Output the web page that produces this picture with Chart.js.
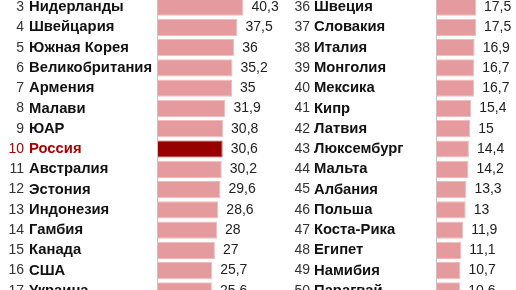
<!DOCTYPE html>
<html>
<head>
<meta charset="utf-8">
<script src="https://cdn.jsdelivr.net/npm/chart.js@4/dist/chart.umd.min.js"></script>
<style>
  html, body { margin: 0; padding: 0; background: #fff; }
  body { width: 516px; height: 290px; overflow: hidden; position: relative; }
  canvas { position: absolute; top: -3px; }
  #leftChart { left: 0; }
  #rightChart { left: 256px; }
</style>
</head>
<body>
<canvas id="leftChart" width="290" height="304"></canvas>
<canvas id="rightChart" width="260" height="304"></canvas>
<script>
// left column: places 3-17
const leftRanks = ['3', '4', '5', '6', '7', '8', '9', '10', '11', '12', '13', '14', '15', '16', '17'];
const leftNames = ['Нидерланды', 'Швейцария', 'Южная Корея', 'Великобритания', 'Армения', 'Малави', 'ЮАР',
  'Россия', 'Австралия', 'Эстония', 'Индонезия', 'Гамбия', 'Канада', 'США', 'Украина'];
const leftValues = [40.3, 37.5, 36, 35.2, 35, 31.9, 30.8, 30.6, 30.2, 29.6, 28.6, 28, 27, 25.7, 25.6];

// right column: places 36-50
const rightRanks = ['36', '37', '38', '39', '40', '41', '42', '43', '44', '45', '46', '47', '48', '49', '50'];
const rightNames = ['Швеция', 'Словакия', 'Италия', 'Монголия', 'Мексика', 'Кипр', 'Латвия', 'Люксембург',
  'Мальта', 'Албания', 'Польша', 'Коста-Рика', 'Египет', 'Намибия', 'Парагвай'];
const rightValues = [17.5, 17.5, 16.9, 16.7, 16.7, 15.4, 15, 14.4, 14.2, 13.3, 13, 11.9, 11.1, 10.7, 10.6];

const highlight = 'Россия';

const FONT = '"Liberation Sans", Arial, Helvetica, sans-serif';
const RED = '#a80000';

// draws the value to the right of each bar
const valueLabels = {
  id: 'valueLabels',
  afterDatasetsDraw(chart) {
    const ctx = chart.ctx;
    const meta = chart.getDatasetMeta(0);
    const data = chart.data.datasets[0].data;
    ctx.save();
    ctx.font = '14px ' + FONT;
    ctx.fillStyle = '#222';
    ctx.textAlign = 'left';
    ctx.textBaseline = 'middle';
    meta.data.forEach((bar, i) => {
      ctx.fillText(String(data[i]).replace('.', ','), bar.x + 8, bar.y);
    });
    ctx.restore();
  }
};

function makeChart(id, ranks, names, values, xMax, rankWidth, rankPad, nameWidth) {
  const isHi = (i) => names[i] === highlight;
  new Chart(document.getElementById(id), {
    type: 'bar',
    data: {
      labels: names,
      datasets: [{
        data: values,
        backgroundColor: names.map((n) => n === highlight ? '#990000' : '#e59a9d'),
        borderColor: names.map((n) => n === highlight ? '#b53a3a' : '#efbcbe'),
        borderWidth: 1,
        barPercentage: 0.85,
        categoryPercentage: 1
      }]
    },
    options: {
      indexAxis: 'y',
      responsive: false,
      animation: false,
      events: [],
      layout: { padding: 0 },
      plugins: { legend: { display: false }, tooltip: { enabled: false } },
      scales: {
        x: { type: 'linear', display: false, min: 0, max: xMax },
        y: {
          type: 'category',
          position: 'left',
          weight: 0,
          labels: names,
          grid: { display: false, drawTicks: false },
          border: { display: true, color: '#c4c4c4', width: 1, z: 1 },
          ticks: {
            autoSkip: false,
            crossAlign: 'far',
            padding: 0,
            color: (c) => isHi(c.index) ? RED : '#111',
            font: { family: FONT, size: 14.8, weight: 'bold' }
          },
          afterFit(s) { s.width = nameWidth; s.paddingTop = 0; s.paddingBottom = 0; }
        },
        rank: {
          type: 'category',
          position: 'left',
          weight: 1,
          labels: ranks,
          grid: { display: false, drawTicks: false },
          border: { display: false },
          ticks: {
            autoSkip: false,
            crossAlign: 'near',
            padding: rankPad,
            color: (c) => isHi(c.index) ? RED : '#333',
            font: { family: FONT, size: 14 }
          },
          afterFit(s) { s.width = rankWidth; s.paddingTop = 0; s.paddingBottom = 0; }
        }
      }
    },
    plugins: [valueLabels]
  });
}

makeChart('leftChart', leftRanks, leftNames, leftValues, 62, 29, 5, 128);
makeChart('rightChart', rightRanks, rightNames, rightValues, 35, 58, 4, 122);
</script>
</body>
</html>
